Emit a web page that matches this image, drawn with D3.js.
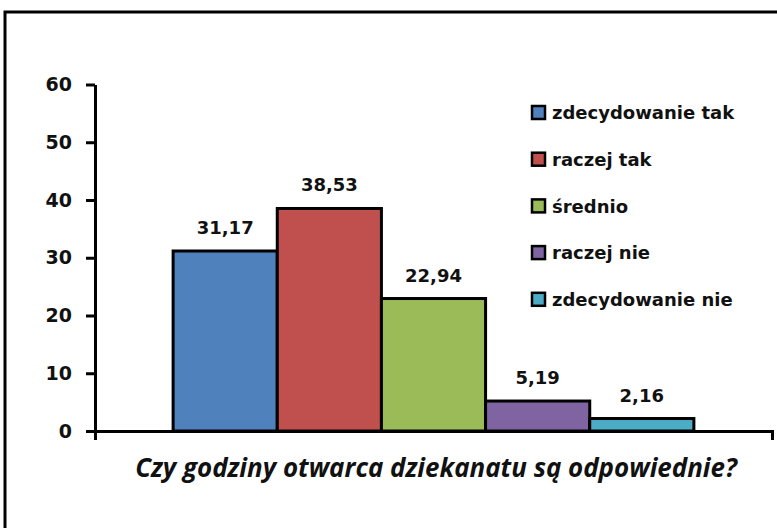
<!DOCTYPE html>
<html>
<head>
<meta charset="utf-8">
<script src="https://cdn.jsdelivr.net/npm/d3@7"></script>
<style>
  html, body { margin: 0; padding: 0; background: #fff; }
  svg { display: block; }
</style>
</head>
<body>
<div id="chart"></div>
<script>
// ---- data ----
const categories = ["Czy godziny otwarca dziekanatu są odpowiednie?"];
const seriesNames = ["zdecydowanie tak", "raczej tak", "średnio", "raczej nie", "zdecydowanie nie"];
const seriesValues = [31.17, 38.53, 22.94, 5.19, 2.16];
const valueLabels = ["31,17", "38,53", "22,94", "5,19", "2,16"];
const seriesColors = ["#4F81BD", "#C0504D", "#9BBB59", "#8064A2", "#4BACC6"];
const yTicks = [0, 10, 20, 30, 40, 50, 60];

const W = 777, H = 528;
const svg = d3.select("#chart").append("svg").attr("width", W).attr("height", H);
svg.append("rect").attr("width", W).attr("height", H).attr("fill", "#fff");

// outer frame (right and bottom edges fall outside the picture)
svg.append("rect").attr("x", 5).attr("y", 12).attr("width", 820).attr("height", 600)
  .attr("fill", "none").attr("stroke", "#000").attr("stroke-width", 3);

const plotL = 95, plotR = 772, plotT = 84.5, plotB = 431;

const y = d3.scaleLinear().domain([0, 60]).range([plotB, plotT]);
const xCat = d3.scaleBand().domain(categories).range([plotL, plotR]);
const xSer = d3.scaleBand().domain(seriesNames)
  .range([xCat(categories[0]), xCat(categories[0]) + xCat.bandwidth()])
  .paddingInner(0).paddingOuter(0.75);

const labelFont = "'DejaVu Sans', sans-serif";

// bars
const data = seriesNames.map((s, i) => ({ name: s, value: seriesValues[i], label: valueLabels[i], color: seriesColors[i] }));
svg.append("g").selectAll("rect").data(data).join("rect")
  .attr("x", d => xSer(d.name))
  .attr("y", d => y(d.value))
  .attr("width", xSer.bandwidth())
  .attr("height", d => y(0) - y(d.value))
  .attr("fill", d => d.color)
  .attr("stroke", "#000").attr("stroke-width", 3);

// value labels
svg.append("g").selectAll("text").data(data).join("text")
  .attr("x", d => xSer(d.name) + xSer.bandwidth() / 2)
  .attr("y", d => y(d.value) - 17)
  .attr("text-anchor", "middle")
  .attr("font-family", labelFont).attr("font-weight", "bold").attr("font-size", 18)
  .attr("fill", "#111")
  .text(d => d.label);

// y axis
const yAxis = svg.append("g").attr("transform", `translate(${plotL},0)`)
  .call(d3.axisLeft(y).tickValues(yTicks).tickSize(9).tickSizeOuter(0).tickPadding(14).tickFormat(d3.format("d")));
yAxis.selectAll("path, line").attr("stroke", "#000").attr("stroke-width", 3);
yAxis.selectAll("text").attr("font-family", labelFont).attr("font-weight", "bold")
  .attr("font-size", 19).attr("fill", "#111");

// x axis (category axis with end ticks)
const xAxis = svg.append("g").attr("transform", `translate(0,${y(0)})`)
  .call(d3.axisBottom(xCat).tickValues([]).tickSizeOuter(9));
xAxis.selectAll("path").attr("stroke", "#000").attr("stroke-width", 3).attr("fill", "none");

// axis title
const title = svg.append("text")
  .attr("x", 436).attr("y", 477)
  .attr("text-anchor", "middle")
  .attr("font-family", "'Open Sans', sans-serif").attr("font-weight", "bold").attr("font-style", "italic")
  .attr("font-size", 22).attr("fill", "#111")
  .text(categories[0]);
const tw = title.node().getComputedTextLength();
if (tw > 0) title.attr("font-size", 22 * 602 / tw);

// legend
const legend = svg.append("g").attr("transform", "translate(532,113)");
const rows = legend.selectAll("g").data(data).join("g")
  .attr("transform", (d, i) => `translate(0,${i * 46.7})`);
rows.append("rect").attr("x", 0).attr("y", -7).attr("width", 13).attr("height", 13)
  .attr("fill", d => d.color).attr("stroke", "#000").attr("stroke-width", 2.5);
rows.append("text").attr("x", 20).attr("y", 0).attr("dy", "0.35em")
  .attr("font-family", labelFont).attr("font-weight", "bold").attr("font-size", 18)
  .attr("fill", "#111")
  .text(d => d.name);
</script>
</body>
</html>
